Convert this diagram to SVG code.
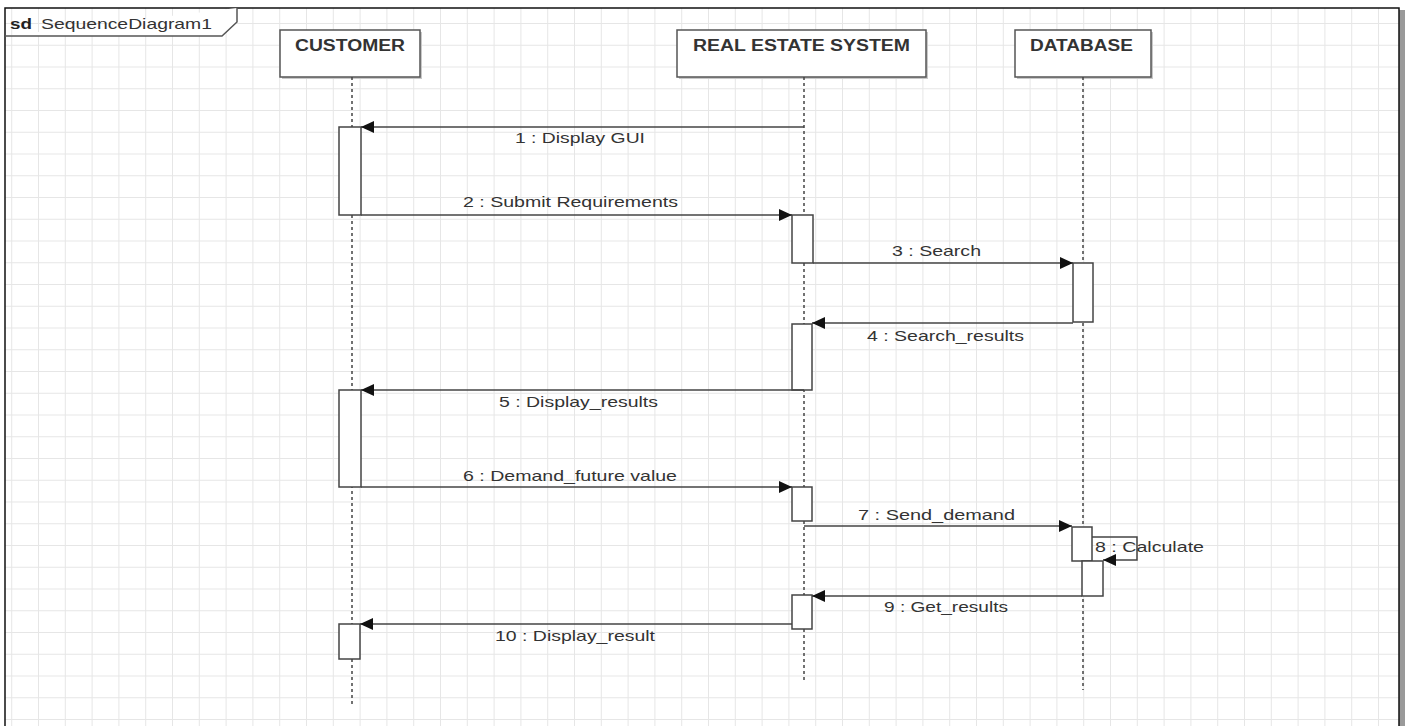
<svg xmlns="http://www.w3.org/2000/svg" width="1405" height="726" viewBox="0 0 1405 726">
<defs>
<pattern id="grid" patternUnits="userSpaceOnUse" x="11.2" y="1.25" width="26.8" height="21.75">
<path d="M0.5 0V21.75M0 0.5H26.8" fill="none" stroke="#e6e6e6" stroke-width="1"/>
</pattern>
<marker id="ah" markerUnits="userSpaceOnUse" markerWidth="14" markerHeight="12" refX="13" refY="6" orient="auto">
<path d="M0 0L13 6L0 12Z" fill="#111"/>
</marker>
</defs>
<style>
.lbl{font-family:"Liberation Sans",Arial,sans-serif;font-size:15px;fill:#333}
.ttl{font-family:"Liberation Sans",Arial,sans-serif;font-size:16px;font-weight:bold;fill:#333;text-anchor:middle}
.box{fill:#fff;stroke:#555;stroke-width:1.5}
.shd{fill:#c8c8c8}
.life{stroke:#444;stroke-width:1.5;stroke-dasharray:3 3;fill:none}
.act{fill:#fff;stroke:#444;stroke-width:1.5}
.msg{stroke:#444;stroke-width:1.5;fill:none;marker-end:url(#ah)}
.seg{stroke:#444;stroke-width:1.5;fill:none}
</style>
<rect width="1405" height="726" fill="#fff"/>
<rect x="5" y="8" width="1394" height="718" fill="url(#grid)"/>
<g id="frame">
<rect x="1399" y="10" width="6" height="716" fill="#9a9a9a"/>
<path d="M5 726V8H1399V726" fill="none" stroke="#111" stroke-width="1.5"/>
<path d="M5 36H222L237 22V8" fill="#fff" stroke="#555" stroke-width="1.5"/>
<text x="10" y="29" font-family="Liberation Sans,Arial,sans-serif" font-size="15" font-weight="bold" fill="#222" textLength="22" lengthAdjust="spacingAndGlyphs">sd</text>
<text x="41" y="29" class="lbl" textLength="171" lengthAdjust="spacingAndGlyphs">SequenceDiagram1</text>
</g>
<g id="customer">
<rect class="shd" x="282" y="32" width="140" height="47"/>
<rect class="box" x="280" y="30" width="140" height="47"/>
<text class="ttl" x="350" y="51" textLength="110" lengthAdjust="spacingAndGlyphs">CUSTOMER</text>
<line class="life" x1="352" y1="77" x2="352" y2="704"/>
<rect class="act" x="339" y="127" width="22" height="88"/>
<rect class="act" x="339" y="390" width="22" height="97"/>
<rect class="act" x="339" y="624" width="21" height="35"/>
</g>
<g id="system">
<rect class="shd" x="679" y="32" width="249" height="47"/>
<rect class="box" x="677" y="30" width="249" height="47"/>
<text class="ttl" x="801.5" y="51" textLength="217" lengthAdjust="spacingAndGlyphs">REAL ESTATE SYSTEM</text>
<line class="life" x1="804" y1="77" x2="804" y2="683"/>
<rect class="act" x="792" y="215" width="21" height="48"/>
<rect class="act" x="792" y="324" width="20" height="66"/>
<rect class="act" x="792" y="487" width="20" height="34"/>
<rect class="act" x="792" y="595" width="20" height="34"/>
</g>
<g id="database">
<rect class="shd" x="1017" y="32" width="136" height="47"/>
<rect class="box" x="1015" y="30" width="136" height="47"/>
<text class="ttl" x="1081.5" y="51" textLength="103" lengthAdjust="spacingAndGlyphs">DATABASE</text>
<line class="life" x1="1083" y1="77" x2="1083" y2="690"/>
<rect class="act" x="1073" y="263" width="20" height="59"/>
<rect class="act" x="1072" y="527" width="20" height="34"/>
<rect class="act" x="1082" y="561" width="21" height="35"/>
</g>
<g id="connectors">
<line class="msg" x1="804" y1="127" x2="361" y2="127"/>
<line class="msg" x1="361" y1="215" x2="792" y2="215"/>
<line class="msg" x1="813" y1="263" x2="1073" y2="263"/>
<line class="msg" x1="1073" y1="323" x2="812" y2="323"/>
<line class="msg" x1="804" y1="390" x2="361" y2="390"/>
<line class="msg" x1="361" y1="487" x2="792" y2="487"/>
<line class="msg" x1="804" y1="526" x2="1072" y2="526"/>
<path class="seg" d="M1092 537H1137V560H1120"/>
<line class="msg" x1="1120" y1="560" x2="1103" y2="560"/>
<line class="msg" x1="1082" y1="596" x2="812" y2="596"/>
<line class="msg" x1="792" y1="624" x2="360" y2="624"/>
</g>
<g id="labels">
<text class="lbl" x="515" y="143" textLength="130" lengthAdjust="spacingAndGlyphs">1 : Display GUI</text>
<text class="lbl" x="463" y="207" textLength="215" lengthAdjust="spacingAndGlyphs">2 : Submit Requirements</text>
<text class="lbl" x="892" y="256" textLength="89" lengthAdjust="spacingAndGlyphs">3 : Search</text>
<text class="lbl" x="867" y="341" textLength="157" lengthAdjust="spacingAndGlyphs">4 : Search_results</text>
<text class="lbl" x="499" y="407" textLength="159" lengthAdjust="spacingAndGlyphs">5 : Display_results</text>
<text class="lbl" x="463" y="481" textLength="214" lengthAdjust="spacingAndGlyphs">6 : Demand_future value</text>
<text class="lbl" x="858" y="520" textLength="157" lengthAdjust="spacingAndGlyphs">7 : Send_demand</text>
<text class="lbl" x="1095" y="552" textLength="109" lengthAdjust="spacingAndGlyphs">8 : Calculate</text>
<text class="lbl" x="884" y="612" textLength="124" lengthAdjust="spacingAndGlyphs">9 : Get_results</text>
<text class="lbl" x="495" y="641" textLength="160" lengthAdjust="spacingAndGlyphs">10 : Display_result</text>
</g>
</svg>
